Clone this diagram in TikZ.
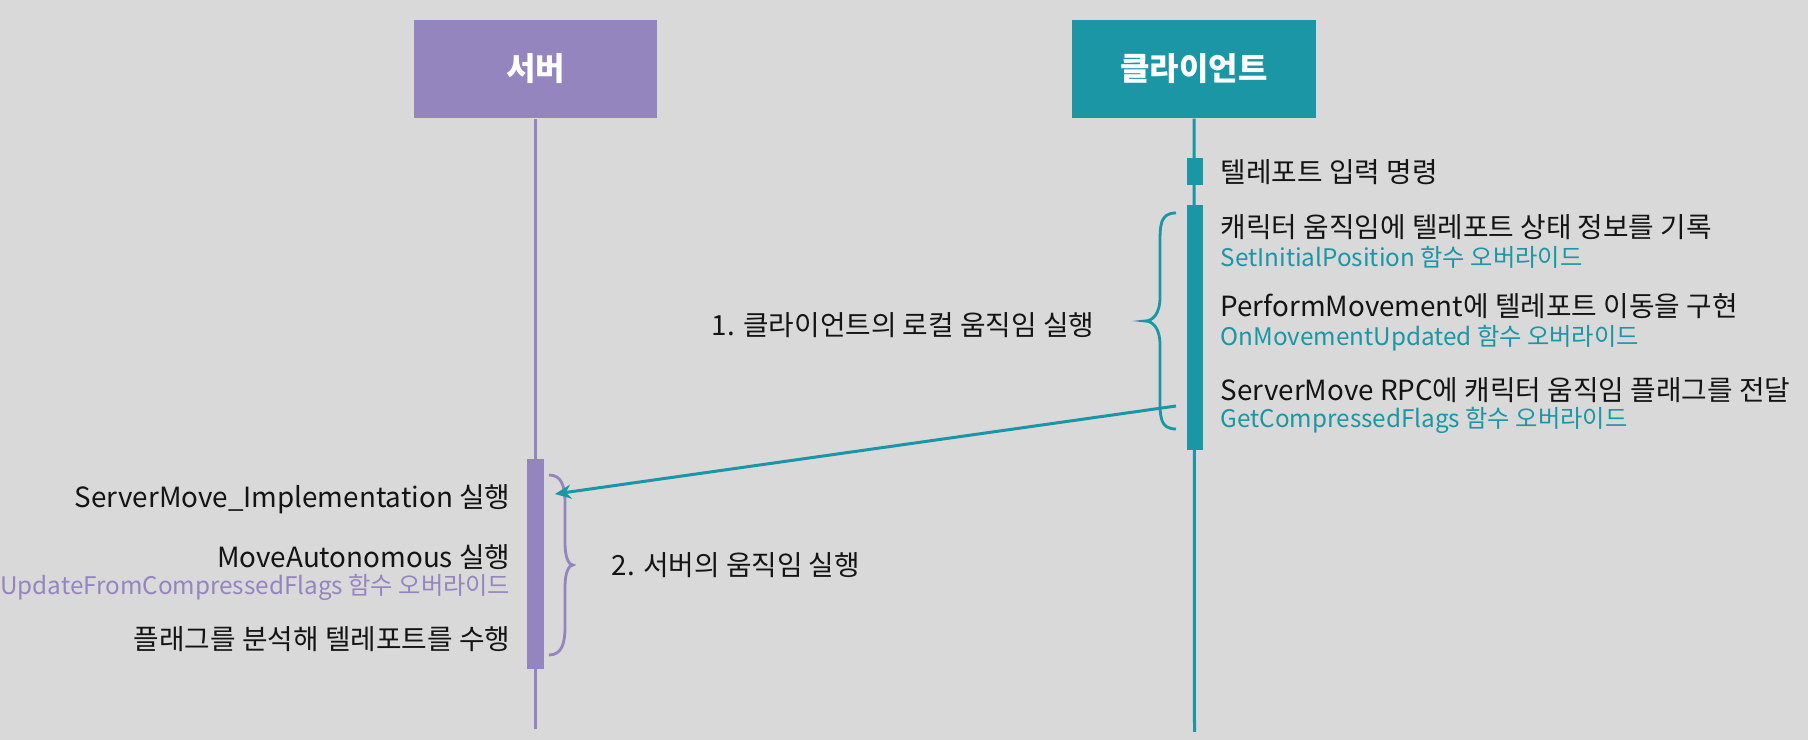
\documentclass[tikz,border=0pt]{standalone}
\usepackage{fontspec}
\setmainfont{Noto Sans CJK KR}
\usetikzlibrary{arrows.meta}
\definecolor{bgc}{HTML}{D9D9D9}
\definecolor{srvc}{HTML}{9585BF}
\definecolor{clic}{HTML}{1A96A4}
\definecolor{txtc}{HTML}{141414}
\tikzset{
  hdr/.style={rectangle, minimum width=2.43cm, minimum height=0.98cm, inner sep=0pt, text=white, font=\fontsize{9.1pt}{11pt}\selectfont\bfseries},
  lifeline/.style={line width=0.03cm},
  actbox/.style={rectangle, minimum width=0.16cm, inner sep=0pt, draw=none},
  mainlbl/.style={inner sep=0pt, text=txtc, font=\fontsize{7.9pt}{9.5pt}\selectfont},
  sublbl/.style={inner sep=0pt, font=\fontsize{6.9pt}{8.3pt}\selectfont},
  bracec/.style={line width=0.028cm},
  msg/.style={line width=0.03cm, -{Stealth[length=0.16cm,width=0.14cm]}}
}
\begin{document}
\begin{tikzpicture}[x=0.01cm,y=-0.01cm]
\fill[bgc] (0,0) rectangle (1808,740);
\useasboundingbox (0,0) rectangle (1808,740);
% headers
\node[hdr, fill=srvc] (srv) at (535.5,69) {서버};
\node[hdr, fill=clic] (cli) at (1194,69) {클라이언트};
% lifelines
\coordinate (srvend) at (535.5,729);
\coordinate (cliend) at (1194.5,732);
\draw[lifeline, srvc] (srv.south) -- (srvend);
\draw[lifeline, clic] (cli.south) -- (cliend);
% activations
\node[actbox, fill=clic, minimum height=0.27cm] (cact1) at (1194.5,171.5) {};
\node[actbox, fill=clic, minimum height=2.45cm] (cact2) at (1194.5,327.5) {};
\node[actbox, fill=srvc, minimum height=2.10cm] (sact) at (535.5,564) {};
% client labels
\node[mainlbl, anchor=west] (c1) at (1220,172) {텔레포트 입력 명령};
\node[mainlbl, anchor=west] (c2) at (1220,227) {캐릭터 움직임에 텔레포트 상태 정보를 기록};
\node[sublbl, text=clic, anchor=west] (c2s) at (1220,257) {SetInitialPosition 함수 오버라이드};
\node[mainlbl, anchor=west] (c3) at (1220,306) {PerformMovement에 텔레포트 이동을 구현};
\node[sublbl, text=clic, anchor=west] (c3s) at (1220,338) {OnMovementUpdated 함수 오버라이드};
\node[mainlbl, anchor=west] (c4) at (1220,390) {ServerMove RPC에 캐릭터 움직임 플래그를 전달};
\node[sublbl, text=clic, anchor=west] (c4s) at (1220,420) {GetCompressedFlags 함수 오버라이드};
% client brace
\draw[bracec, clic] (1176,213) .. controls (1160,213) and (1160,225) .. (1160,245) -- (1160,297)
  .. controls (1160,315) and (1152,321) .. (1145,321)
  .. controls (1152,321) and (1160,327) .. (1160,345) -- (1160,397)
  .. controls (1160,417) and (1160,429) .. (1176,429);
\node[mainlbl, anchor=east] (cb) at (1095,325) {1. 클라이언트의 로컬 움직임 실행};
% server labels
\node[mainlbl, anchor=east] (s1) at (511,499) {ServerMove\_Implementation 실행};
\node[mainlbl, anchor=east] (s2) at (511,557) {MoveAutonomous 실행};
\node[sublbl, text=srvc, anchor=east] (s2s) at (511,587) {UpdateFromCompressedFlags 함수 오버라이드};
\node[mainlbl, anchor=east] (s3) at (511,639) {플래그를 분석해 텔레포트를 수행};
% server brace
\draw[bracec, srvc] (549,475) .. controls (562,475) and (565,487) .. (565,503) -- (565,543)
  .. controls (565,558) and (569,565) .. (573,565)
  .. controls (569,565) and (565,572) .. (565,587) -- (565,627)
  .. controls (565,643) and (562,655) .. (549,655);
\node[mainlbl, anchor=west] (sb) at (611,565) {2. 서버의 움직임 실행};
% message
\coordinate (msgS) at (1176,406);
\coordinate (msgE) at (555,494);
\draw[msg, clic] (msgS) -- (msgE);
\end{tikzpicture}
\end{document}
